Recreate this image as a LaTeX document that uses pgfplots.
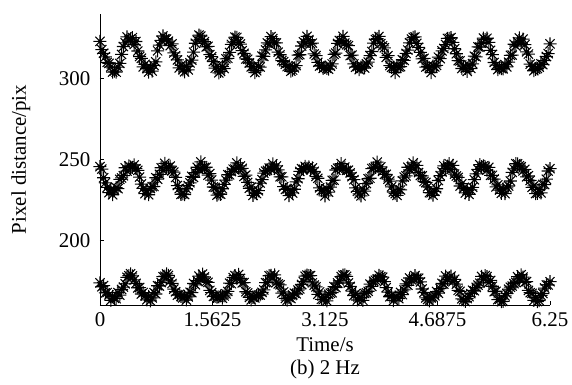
\documentclass[border=0pt]{standalone}
\usepackage{pgfplots}
\usepackage{pgfplotstable}
\usepackage{fontspec}
\setmainfont{Liberation Serif}
\pgfplotsset{compat=1.18}
\pgfdeclareplotmark{mstar}{%
  \pgfpathmoveto{\pgfqpoint{-\pgfplotmarksize}{0pt}}\pgfpathlineto{\pgfqpoint{\pgfplotmarksize}{0pt}}%
  \pgfpathmoveto{\pgfqpoint{0pt}{-\pgfplotmarksize}}\pgfpathlineto{\pgfqpoint{0pt}{\pgfplotmarksize}}%
  \pgfpathmoveto{\pgfqpoint{-.7071\pgfplotmarksize}{-.7071\pgfplotmarksize}}\pgfpathlineto{\pgfqpoint{.7071\pgfplotmarksize}{.7071\pgfplotmarksize}}%
  \pgfpathmoveto{\pgfqpoint{-.7071\pgfplotmarksize}{.7071\pgfplotmarksize}}\pgfpathlineto{\pgfqpoint{.7071\pgfplotmarksize}{-.7071\pgfplotmarksize}}%
  \pgfusepathqstroke}
\pgfplotstableread{
t top mid bot
0.00 323.1 245.6 173.7
0.05 315.7 238.7 172.0
0.10 310.0 232.7 167.7
0.15 307.3 231.6 162.9
0.20 304.7 231.1 164.1
0.25 307.2 232.0 167.7
0.30 315.0 238.6 169.6
0.35 322.2 244.9 173.1
0.40 323.8 246.0 178.1
0.45 325.4 245.2 178.0
0.50 323.0 244.3 173.4
0.55 313.7 239.1 170.8
0.60 307.3 232.1 167.7
0.65 306.3 230.7 163.2
0.70 306.5 232.1 162.6
0.75 308.2 233.3 167.6
0.80 317.2 237.8 171.9
0.85 323.7 244.9 173.9
0.90 324.7 247.6 177.8
0.95 323.2 245.0 178.3
1.00 321.5 243.0 173.3
1.05 314.1 238.9 168.2
1.10 306.7 232.0 166.6
1.15 305.5 228.7 164.4
1.20 307.6 231.9 163.1
1.25 309.8 235.6 167.9
1.30 316.4 238.9 173.3
1.35 323.9 245.2 175.1
1.40 326.3 248.5 176.1
1.45 322.9 245.1 177.4
1.50 320.0 240.3 174.0
1.55 313.6 237.3 167.6
1.60 306.5 232.7 165.4
1.65 303.6 228.8 165.0
1.70 307.6 231.9 164.2
1.75 312.3 237.3 166.9
1.80 316.2 240.5 173.5
1.85 322.6 244.0 177.0
1.90 325.5 247.9 176.3
1.95 321.4 246.0 176.4
2.00 315.7 239.6 173.9
2.05 312.0 235.8 167.4
2.10 307.3 232.9 163.2
2.15 303.8 229.4 164.4
2.20 307.8 230.7 166.1
2.25 314.0 237.6 167.8
2.30 317.8 242.8 173.8
2.35 321.4 244.7 178.1
2.40 324.8 247.3 176.8
2.45 322.1 246.0 174.1
2.50 314.8 239.3 172.5
2.55 310.5 233.2 168.1
2.60 307.5 231.8 163.0
2.65 304.6 231.0 164.0
2.70 306.7 231.6 167.3
2.75 314.5 238.1 169.2
2.80 320.2 244.3 172.7
2.85 322.0 245.7 177.8
2.90 324.1 245.4 178.1
2.95 322.0 244.8 173.7
3.00 314.3 239.6 171.2
3.05 307.8 232.5 168.1
3.10 306.4 230.8 163.3
3.15 306.3 231.9 162.5
3.20 307.7 232.9 167.3
3.25 315.0 237.2 171.4
3.30 321.8 244.6 173.6
3.35 323.0 247.5 177.6
3.40 322.0 245.3 178.6
3.45 320.4 243.4 173.6
3.50 314.6 239.4 168.6
3.55 307.1 232.4 166.9
3.60 305.6 228.8 164.4
3.65 307.4 231.7 162.9
3.70 309.2 235.1 167.5
3.75 314.3 238.4 172.9
3.80 322.0 244.8 174.7
3.85 324.7 248.4 176.0
3.90 321.7 245.4 177.6
3.95 319.1 240.8 174.4
4.00 314.2 237.8 168.0
4.05 307.0 233.1 165.8
4.10 303.7 228.9 165.1
4.15 307.2 231.6 163.9
4.20 311.7 236.8 166.4
4.25 315.6 239.9 173.1
4.30 322.2 243.6 176.7
4.35 325.5 247.9 176.3
4.40 321.8 246.4 176.7
4.45 316.2 240.1 174.3
4.50 312.6 236.4 167.8
4.55 307.6 233.1 163.4
4.60 303.8 229.4 164.4
4.65 307.3 230.3 165.7
4.70 313.3 237.0 167.3
4.75 317.2 242.3 173.4
4.80 321.1 244.4 177.9
4.85 324.9 247.4 176.9
4.90 322.4 246.4 174.4
4.95 315.4 239.8 172.9
5.00 311.0 233.6 168.4
5.05 307.7 232.0 163.2
5.10 304.5 230.9 164.0
5.15 306.3 231.2 167.0
5.20 313.9 237.5 168.8
5.25 319.7 243.9 172.3
5.30 321.9 245.6 177.7
5.35 324.2 245.4 178.2
5.40 322.4 245.1 174.0
5.45 314.9 240.2 171.6
5.50 308.4 233.1 168.5
5.55 306.7 231.1 163.5
5.60 306.1 231.8 162.3
5.65 307.3 232.5 167.0
5.70 314.4 236.7 171.0
5.75 321.3 244.2 173.2
5.80 322.8 247.3 177.5
5.85 322.2 245.5 178.7
5.90 321.0 243.9 174.0
5.95 315.2 239.9 169.0
6.00 307.6 232.8 167.2
6.05 305.8 228.9 164.6
6.10 307.1 231.4 162.7
6.15 308.7 234.6 167.1
6.20 313.7 237.8 172.4
6.25 321.5 244.3 174.4
}\datatable
\pgfplotstableread{
t top mid bot
0.025 318.0 244.1 171.3
0.075 313.5 235.6 167.5
0.125 309.5 229.5 166.2
0.175 304.1 228.2 165.3
0.225 304.0 232.6 163.9
0.275 309.4 237.7 166.1
0.325 319.9 240.0 171.1
0.375 325.8 242.8 177.1
0.425 324.6 245.2 179.3
0.475 321.2 246.6 175.5
0.525 317.1 243.3 170.6
0.575 312.6 234.8 166.8
0.625 308.8 228.9 165.7
0.675 304.1 228.2 165.3
0.725 304.7 233.2 164.4
0.775 310.4 238.7 166.8
0.825 320.8 240.8 171.8
0.875 326.4 243.3 177.5
0.925 324.5 245.1 179.2
0.975 320.4 245.9 174.9
1.025 315.9 242.2 169.8
1.075 311.6 233.9 166.1
1.125 308.2 228.4 165.3
1.175 304.2 228.3 165.4
1.225 305.4 233.8 165.0
1.275 311.5 239.6 167.6
1.325 321.9 241.8 172.5
1.375 326.9 243.8 177.9
1.425 324.3 245.0 179.1
1.475 319.7 245.2 174.4
1.525 314.9 241.3 169.0
1.575 310.6 233.0 165.3
1.625 307.8 228.0 164.9
1.675 304.5 228.5 165.6
1.725 306.3 234.6 165.6
1.775 312.6 240.6 168.4
1.825 321.2 242.5 173.2
1.875 325.7 244.1 178.2
1.925 322.5 244.7 178.9
1.975 317.3 244.5 173.7
2.025 312.2 240.3 168.2
2.075 309.7 232.2 164.7
2.125 307.5 227.8 164.7
2.175 304.9 228.9 165.9
2.225 307.2 235.4 166.2
2.275 313.8 241.6 169.3
2.325 322.1 243.3 173.8
2.375 326.0 244.3 178.4
2.425 322.2 244.4 178.6
2.475 316.4 243.6 173.0
2.525 311.2 239.3 167.4
2.575 308.9 231.5 164.1
2.625 307.3 227.6 164.6
2.675 305.3 229.3 166.2
2.725 308.1 236.2 166.9
2.775 314.8 242.6 170.0
2.825 322.8 244.0 174.4
2.875 326.2 244.5 178.5
2.925 321.6 243.8 178.2
2.975 315.3 242.7 172.3
3.025 310.1 238.4 166.6
3.075 308.1 230.8 163.5
3.125 307.2 227.5 164.5
3.175 305.9 229.8 166.6
3.225 309.1 237.1 167.6
3.275 315.8 243.5 170.8
3.325 323.6 244.7 174.9
3.375 326.2 244.5 178.5
3.425 320.9 243.3 177.7
3.475 314.3 241.7 171.5
3.525 309.1 237.5 165.8
3.575 307.5 230.3 163.1
3.625 307.2 227.5 164.5
3.675 306.6 230.4 167.1
3.725 310.2 238.1 168.5
3.775 316.8 244.4 171.5
3.825 324.2 245.2 175.3
3.875 326.1 244.4 178.4
3.925 320.3 242.7 177.2
3.975 313.2 240.8 170.7
4.025 308.1 236.6 165.1
4.075 307.1 229.9 162.7
4.125 307.5 227.8 164.7
4.175 307.4 231.2 167.8
4.225 311.3 239.1 169.3
4.275 317.7 245.2 172.2
4.325 324.5 245.5 175.6
4.375 325.8 244.2 178.2
4.425 319.4 241.9 176.6
4.475 312.2 239.9 169.9
4.525 307.2 235.8 164.4
4.575 306.7 229.5 162.5
4.625 307.7 227.9 164.9
4.675 308.2 231.9 168.3
4.725 312.4 240.0 170.1
4.775 318.7 246.1 172.9
4.825 324.9 245.9 175.9
4.875 325.4 243.8 177.9
4.925 318.5 241.0 175.9
4.975 311.1 238.9 169.1
5.025 306.3 235.0 163.8
5.075 306.4 229.3 162.2
5.125 308.2 228.4 165.2
5.175 309.2 232.8 169.1
5.225 313.5 241.1 170.9
5.275 319.5 246.8 173.5
5.325 325.1 246.0 176.0
5.375 325.0 243.4 177.6
5.425 317.5 240.2 175.2
5.475 310.0 237.9 168.3
5.525 305.6 234.3 163.3
5.575 306.2 229.1 162.1
5.625 308.7 228.9 165.6
5.675 310.2 233.6 169.8
5.725 314.6 242.0 171.7
5.775 320.2 247.4 174.0
5.825 325.2 246.1 176.1
5.875 324.5 243.0 177.2
5.925 316.6 239.3 174.5
5.975 309.0 237.0 167.6
6.025 304.9 233.7 162.8
6.075 306.2 229.1 162.1
6.125 309.2 229.3 166.0
6.175 311.1 234.5 170.5
6.225 315.5 242.9 172.4
}\datatableb
\begin{document}
\begin{tikzpicture}
\fontsize{21}{25}\selectfont
\begin{axis}[
  at={(0,0)}, anchor=south west,
  scale only axis, width=450bp, height=291bp,
  xmin=0, xmax=6.25, ymin=160, ymax=340,
  axis lines*=left,
  axis line style={line width=1pt},
  tick align=inside,
  major tick length=4bp,
  tick style={line width=0.8pt, black},
  xtick={0,1.5625,3.125,4.6875,6.25},
  xticklabels={0,1.5625,3.125,4.6875,6.25},
  ytick={200,250,300},
  yticklabels={200,250,300},
  /pgf/number format/assume math mode=true,
  tick label style={font=\fontsize{21}{25}\selectfont},
  yticklabel style={xshift=-2.5bp},
  label style={font=\fontsize{21}{25}\selectfont},
  xlabel={Time/s},
  xlabel style={at={(axis description cs:0.5,-0.137)}, anchor=center},
  ylabel={Pixel distance/pix},
  ylabel style={at={(axis description cs:-0.176,0.5)}, anchor=center},
  clip=false,
]
\addplot[only marks, mark=mstar, mark size=6.5bp, line width=1.05pt, black] table[x=t, y=top] {\datatable};
\addplot[only marks, mark=mstar, mark size=6.5bp, line width=1.05pt, black] table[x=t, y=mid] {\datatable};
\addplot[only marks, mark=mstar, mark size=6.5bp, line width=1.05pt, black] table[x=t, y=bot] {\datatable};
\addplot[only marks, mark=mstar, mark size=6.5bp, line width=1.05pt, black] table[x=t, y=top] {\datatableb};
\addplot[only marks, mark=mstar, mark size=6.5bp, line width=1.05pt, black] table[x=t, y=mid] {\datatableb};
\addplot[only marks, mark=mstar, mark size=6.5bp, line width=1.05pt, black] table[x=t, y=bot] {\datatableb};
\node[font=\fontsize{21}{25}\selectfont] at (axis description cs:0.5,-0.223) {(b) 2 Hz};
\end{axis}
\pgfresetboundingbox
\path[use as bounding box] (-100bp,-80bp) rectangle (472bp,305bp);
\end{tikzpicture}
\end{document}
